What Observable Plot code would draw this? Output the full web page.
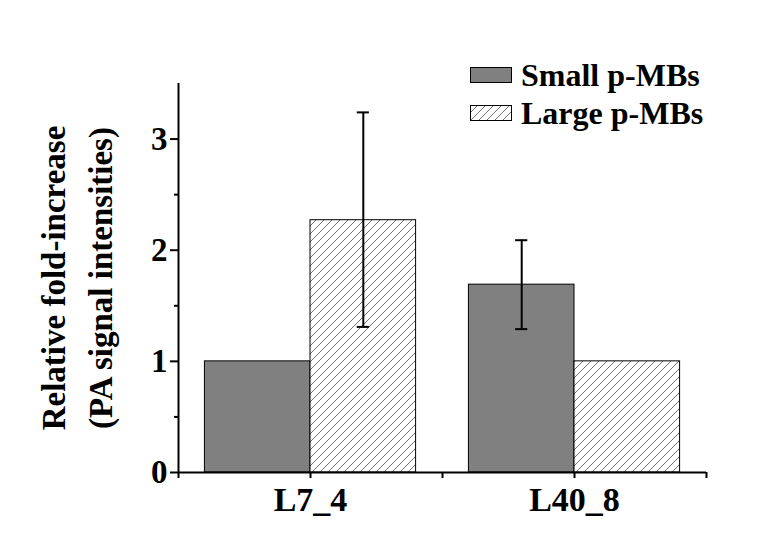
<!DOCTYPE html>
<html>
<head>
<meta charset="utf-8">
<script src="https://cdn.jsdelivr.net/npm/d3@7"></script>
<script src="https://cdn.jsdelivr.net/npm/@observablehq/plot@0.6"></script>
<style>
  html, body { margin: 0; padding: 0; background: #fff; }
  #wrap { position: relative; width: 772px; height: 540px; font-family: "Liberation Serif", "Times New Roman", serif; font-weight: bold; }
  #legend { position: absolute; left: 470px; top: 56px; font-size: 32px; line-height: 1; }
  .row { display: flex; align-items: center; height: 38px; }
  .row svg { margin-right: 9px; }
</style>
</head>
<body>
<div id="wrap"><div id="legend"></div></div>
<script>
// ---- data ----
const groups = ["L7_4", "L40_8"];
const series = ["Small p-MBs", "Large p-MBs"];
const smallValues = [1.00, 1.69];
const largeValues = [2.27, 1.00];
const smallErrLow = [null, 1.29];
const smallErrHigh = [null, 2.09];
const largeErrLow = [1.31, null];
const largeErrHigh = [3.24, null];
const yTicks = [0, 1, 2, 3];
const yMinorTicks = [0.5, 1.5, 2.5];

// ---- table ----
const barW = 0.4;
const rows = [];
groups.forEach((g, gi) => {
  [[smallValues, smallErrLow, smallErrHigh], [largeValues, largeErrLow, largeErrHigh]].forEach(([vals, lo, hi], si) => {
    const x1 = gi + 1 - barW + si * barW;
    rows.push({group: g, series: series[si], si, x1, x2: x1 + barW, xc: x1 + barW / 2, value: vals[gi], lo: lo[gi], hi: hi[gi]});
  });
});
const errRows = rows.filter(d => d.lo != null);
const capHalf = 0.023;
const caps = errRows.flatMap(d => [{xc: d.xc, y: d.lo}, {xc: d.xc, y: d.hi}]);

const font = "'Liberation Serif', 'Times New Roman', serif";

const chart = Plot.plot({
  width: 772,
  height: 540,
  marginLeft: 178,
  marginRight: 66,
  marginTop: 83,
  marginBottom: 68,
  style: {fontFamily: font, fontWeight: "bold", color: "black", background: "white"},
  x: {domain: [0.5, 2.5]},
  y: {domain: [0, 3.5]},
  marks: [
    Plot.rectY(rows, {x1: "x1", x2: "x2", y: "value", fill: d => d.si === 0 ? "#808080" : "url(#hatch)", stroke: "black", strokeWidth: 1}),
    Plot.ruleX(errRows, {x: "xc", y1: "lo", y2: "hi", stroke: "black", strokeWidth: 2}),
    Plot.ruleY(caps, {y: "y", x1: d => d.xc - capHalf, x2: d => d.xc + capHalf, stroke: "black", strokeWidth: 2}),
    Plot.ruleY([0], {stroke: "black", strokeWidth: 2}),
    Plot.ruleX([0.5], {stroke: "black", strokeWidth: 2}),
    Plot.axisY({ticks: yTicks, tickSize: 8, tickPadding: 3, strokeWidth: 2, fontSize: 33, label: null, tickFormat: d => d}),
    Plot.axisY({ticks: yMinorTicks, tickSize: 4, strokeWidth: 2, tickFormat: () => "", label: null}),
    Plot.axisX({ticks: [0.5, 1, 1.5, 2, 2.5], tickSize: 6, tickPadding: 8, strokeWidth: 2, fontSize: 34, label: null,
      tickFormat: d => Number.isInteger(d) ? groups[d - 1] : ""}),
    Plot.text(["Relative fold-increase\n(PA signal intensities)"], {
      frameAnchor: "left", rotate: -90, dx: -105, fontSize: 33, lineHeight: 1.42,
      textAnchor: "middle", lineAnchor: "middle", fill: "black"
    })
  ]
});

// hatch pattern
const svg = d3.select(chart);
const defs = svg.insert("defs", ":first-child");
function addHatch(defsSel, id) {
  const p = defsSel.append("pattern").attr("id", id).attr("patternUnits", "userSpaceOnUse")
    .attr("width", 8).attr("height", 8);
  p.append("rect").attr("width", 8).attr("height", 8).attr("fill", "white");
  p.append("path").attr("d", "M-2,2 L2,-2 M0,8 L8,0 M6,10 L10,6")
    .attr("stroke", "#333").attr("stroke-width", 0.7);
}
addHatch(defs, "hatch");

document.getElementById("wrap").appendChild(chart);
chart.style.position = "absolute";
chart.style.left = "0";
chart.style.top = "0";
const legend = document.getElementById("legend");
legend.style.zIndex = 2;

series.forEach((s, i) => {
  const row = document.createElement("div");
  row.className = "row";
  const sw = d3.create("svg").attr("width", 42).attr("height", 16);
  if (i === 1) addHatch(sw.append("defs"), "hatchLegend");
  sw.append("rect").attr("x", 0.5).attr("y", 0.5).attr("width", 41).attr("height", 15)
    .attr("fill", i === 0 ? "#808080" : "url(#hatchLegend)").attr("stroke", "black").attr("stroke-width", 1);
  row.appendChild(sw.node());
  const t = document.createElement("span");
  t.textContent = s;
  row.appendChild(t);
  legend.appendChild(row);
});
</script>
</body>
</html>
